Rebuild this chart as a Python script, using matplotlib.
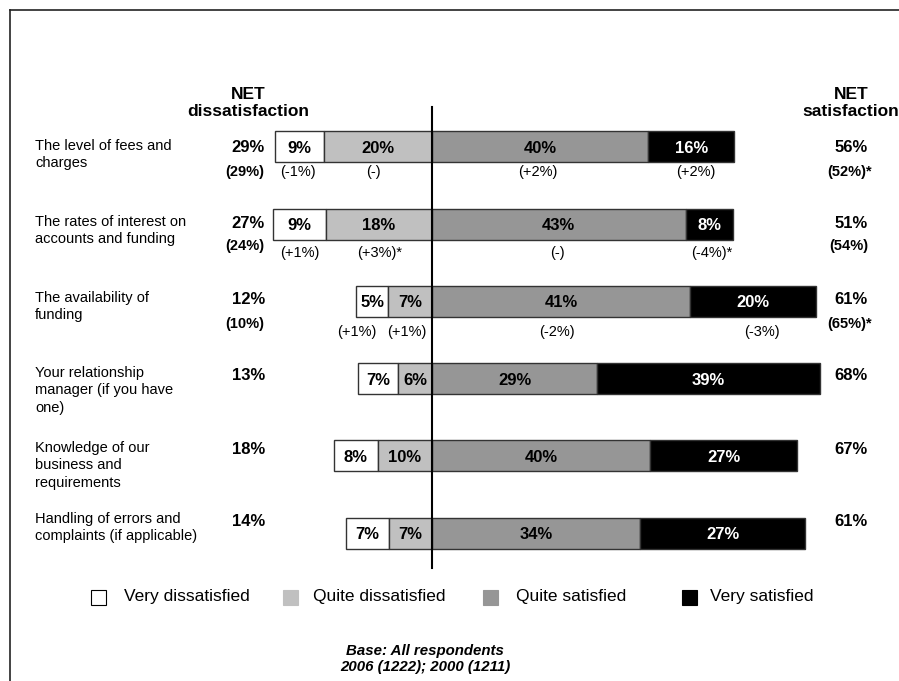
import matplotlib.pyplot as plt
from matplotlib.patches import Rectangle

plt.rcParams['font.family'] = ['Liberation Sans', 'DejaVu Sans']

# 数据
categories = [
    "The level of fees and\ncharges",
    "The rates of interest on\naccounts and funding",
    "The availability of\nfunding",
    "Your relationship\nmanager (if you have\none)",
    "Knowledge of our\nbusiness and\nrequirements",
    "Handling of errors and\ncomplaints (if applicable)",
]
very_dis = [9, 9, 5, 7, 8, 7]
quite_dis = [20, 18, 7, 6, 10, 7]
quite_sat = [40, 43, 41, 29, 40, 34]
very_sat = [16, 8, 20, 39, 27, 27]
net_dis = ["29%", "27%", "12%", "13%", "18%", "14%"]
net_dis_2000 = ["(29%)", "(24%)", "(10%)", "", "", ""]
net_sat = ["56%", "51%", "61%", "68%", "67%", "61%"]
net_sat_2000 = ["(52%)*", "(54%)", "(65%)*", "", "", ""]
changes = [
    ["(-1%)", "(-)", "(+2%)", "(+2%)"],
    ["(+1%)", "(+3%)*", "(-)", "(-4%)*"],
    ["(+1%)", "(+1%)", "(-2%)", "(-3%)"],
]
legend_labels = ["Very dissatisfied", "Quite dissatisfied", "Quite satisfied", "Very satisfied"]
colors = ["white", "#c0c0c0", "#969696", "black"]

# 布局 (像素)
W, H = 899, 681
x0 = 432                      # 中线位置
row_y = [146.5, 224, 301, 378.5, 455.5, 533]
row_scale = [5.4, 5.9, 6.3, 5.7, 5.45, 6.12]   # 每行像素/百分比（原图每行比例不同）
bar_h = 31
text_y = [148, 224, 300, 375, 450, 521]
sub_y = [172, 246, 324]
change_y = [172, 253, 332]
change_x = [
    [298, 373, 538, 696],
    [300, 380, 557, 712],
    [357, 407, 557, 762],
]

fig = plt.figure(figsize=(W / 100, H / 100), dpi=100)

# 每行一个坐标轴
for i in range(len(categories)):
    s = row_scale[i]
    ax = fig.add_axes([0, (H - row_y[i] - bar_h) / H, 1, 2 * bar_h / H])
    ax.set_xlim(-x0 / s, (W - x0) / s)
    ax.set_ylim(-1, 1)
    ax.axis('off')
    lefts = [-(very_dis[i] + quite_dis[i]), -quite_dis[i], 0, quite_sat[i]]
    widths = [very_dis[i], quite_dis[i], quite_sat[i], very_sat[i]]
    for l, w, c in zip(lefts, widths, colors):
        ax.barh(0, w, left=l, height=1, color=c, edgecolor='#333333', linewidth=1)
        ax.text(l + w / 2, -0.05, f"{w}%", ha='center', va='center', fontsize=12,
                fontweight='bold', color='white' if c == 'black' else 'black')

# 叠加层：文字与线条
ov = fig.add_axes([0, 0, 1, 1], zorder=5)
ov.set_xlim(0, W)
ov.set_ylim(H, 0)
ov.axis('off')
ov.patch.set_alpha(0)

ov.plot([10, W], [10, 10], color='#222222', lw=1.2)
ov.plot([10, 10], [10, H], color='#222222', lw=1.2)
ov.plot([x0, x0], [107, 568], color='black', lw=1.5)

ov.text(248, 103, "NET\ndissatisfaction", ha='center', va='center', fontsize=12.5,
        fontweight='bold', linespacing=1.15)
ov.text(851, 103, "NET\nsatisfaction", ha='center', va='center', fontsize=12.5,
        fontweight='bold', linespacing=1.15)

for i, cat in enumerate(categories):
    ov.text(35, text_y[i] - 9, cat, ha='left', va='top', fontsize=10.5, linespacing=1.3)
    ov.text(265, text_y[i], net_dis[i], ha='right', va='center', fontsize=12, fontweight='bold')
    ov.text(868, text_y[i], net_sat[i], ha='right', va='center', fontsize=12, fontweight='bold')
    if net_dis_2000[i]:
        ov.text(264, sub_y[i], net_dis_2000[i], ha='right', va='center', fontsize=10.5,
                fontweight='bold')
        ov.text(872 if net_sat_2000[i].endswith('*') else 868, sub_y[i], net_sat_2000[i],
                ha='right', va='center', fontsize=10.5, fontweight='bold')

for i, row in enumerate(changes):
    for j, t in enumerate(row):
        ov.text(change_x[i][j], change_y[i], t, ha='center', va='center', fontsize=10.5)

# 图例
leg_sq = [91, 283, 483, 682]
leg_tx = [124, 313, 516, 710]
for sx, tx, lab, c in zip(leg_sq, leg_tx, legend_labels, colors):
    ov.add_patch(Rectangle((sx, 590), 15, 15, facecolor=c,
                           edgecolor='black' if c == 'white' else c, lw=0.8))
    ov.text(tx, 597, lab, ha='left', va='center', fontsize=12.5)

ov.text(425, 659, "Base: All respondents\n2006 (1222); 2000 (1211)", ha='center', va='center',
        fontsize=10.8, fontweight='bold', fontstyle='italic', linespacing=1.2)

fig.savefig('out.png', dpi=100)
